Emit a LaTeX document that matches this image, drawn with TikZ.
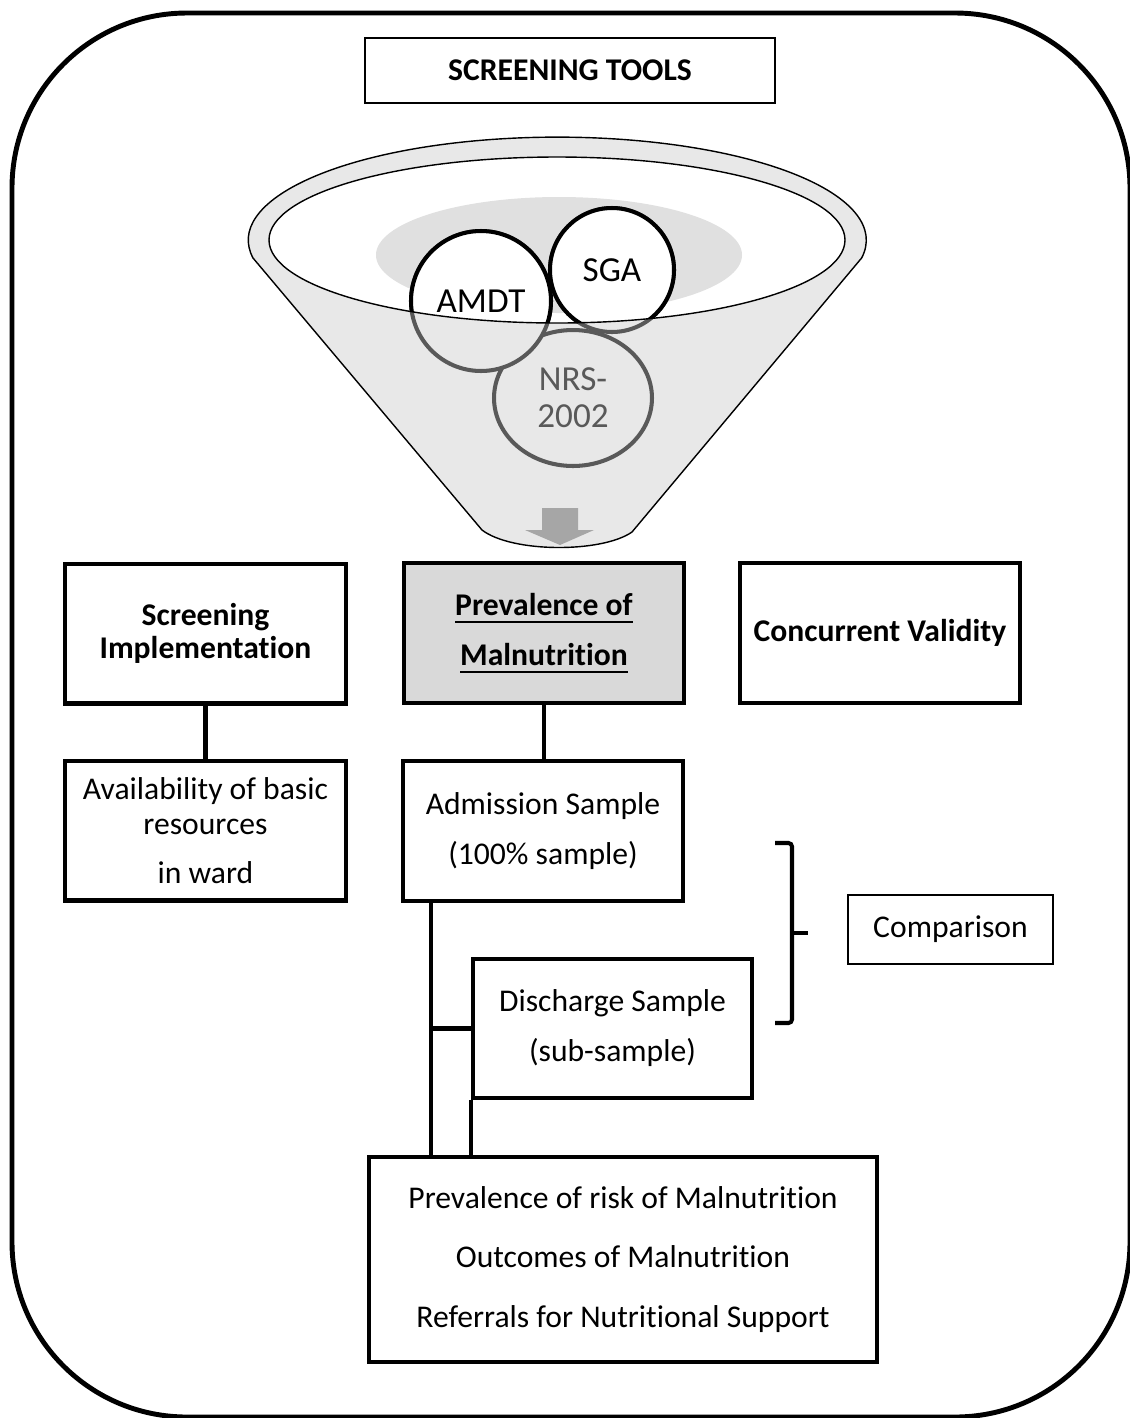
\documentclass[tikz,border=0pt]{standalone}
\usepackage{fontspec}
\setmainfont{Carlito}[Ligatures=NoCommon]
\usepackage{xcolor}
\usepackage{tikz}
\usetikzlibrary{shapes.geometric}
\definecolor{funnelgray}{HTML}{E8E8E8}
\definecolor{shadegray}{HTML}{E0E0E0}
\definecolor{ringgray}{HTML}{595959}
\definecolor{boxgray}{HTML}{D9D9D9}
\definecolor{arrowgray}{HTML}{A6A6A6}

\newcommand\undl[1]{\setbox0=\hbox{#1}\rlap{\rule[-4.5pt]{\wd0}{1.3pt}}\box0}

\begin{document}
\begin{tikzpicture}[x=0.02cm, y=-0.02cm,
          box/.style={rectangle, draw=black, line width=2.3pt, align=center, inner sep=0pt,
                      font=\fontsize{18}{28.5}\selectfont,
                      minimum width=5.62cm, minimum height=2.8cm},
          head/.style={box, font=\bfseries\fontsize{18}{19}\selectfont},
          thinbox/.style={box, line width=1.6pt},
          tool/.style={circle, draw=ringgray, line width=2.3pt, fill=funnelgray, inner sep=0pt},
          toollbl/.style={align=center, font=\fontsize{20}{21}\selectfont},
          link/.style={line width=2.3pt}
        ]
        \useasboundingbox (0,0) rectangle (1130,1418);
        \draw[line width=2.8pt, rounded corners=3.5cm] (12,13) rectangle (1130,1417);

        \node[thinbox, font=\bfseries\fontsize{18}{20}\selectfont,
              minimum width=8.2cm, minimum height=1.3cm] (tools) at (570,70.5) {SCREENING TOOLS};

        % funnel
        \filldraw[fill=funnelgray, line width=0.8pt] (253,258)
          arc[start angle=170, end angle=370, x radius=309, y radius=103]
          -- (632,532) .. controls (602,553) and (512,553) .. (482,530) -- cycle;
        \fill[white] (557,240) ellipse[x radius=288, y radius=83];
        \fill[shadegray] (559,255) ellipse[x radius=183, y radius=58];

        \node[tool, ellipse, minimum width=3.16cm, minimum height=2.72cm] (nrs) at (573,398) {};
        \node[tool, minimum size=2.8cm] (amdt) at (481,301) {};
        \node[tool, minimum size=2.48cm] (sga) at (612,270) {};
        \begin{scope}
          \clip (557,240) ellipse[x radius=288, y radius=83];
          \filldraw[fill=white, line width=2.3pt] (amdt.center) circle[radius=70];
          \filldraw[fill=white, line width=2.3pt] (sga.center) circle[radius=62];
        \end{scope}
        \draw[line width=0.8pt] (557,240) ellipse[x radius=288, y radius=83];

        \node[toollbl] (amdtlbl) at (amdt) {AMDT};
        \node[toollbl] (sgalbl) at (sga) {SGA};
        \node[toollbl, text=ringgray] (nrslbl) at (nrs) {NRS-\\2002};
        \fill[arrowgray] (542,508) -- (578,508) -- (578,530) -- (594,530) -- (560,545)
          -- (525,530) -- (542,530) -- cycle;

        \node[head] (impl) at (205.5,633.5) {Screening\\Implementation};
        \node[head, fill=boxgray, font=\bfseries\fontsize{18}{28.5}\selectfont] (prev) at (544,633)
          {\undl{Prevalence of}\\\undl{Malnutrition}};
        \node[head] (conc) at (880,633) {Concurrent Validity};

        \node[box, font=\fontsize{18}{20}\selectfont] (avail) at (205.5,830.5)
          {Availability of basic\\resources\\[7.4pt]in ward};
        \node[box] (adm) at (543,831) {Admission Sample\\(100\% sample)};
        \node[box, minimum width=5.58cm, minimum height=2.78cm] (dis) at (612.5,1028.5)
          {Discharge Sample\\(sub-sample)};
        \node[thinbox, minimum width=4.1cm, minimum height=1.38cm] (comp) at (950.5,929.5) {Comparison};
        \node[box, font=\fontsize{18}{34}\selectfont, minimum width=10.16cm, minimum height=4.1cm]
          (out) at (623,1259.5)
          {Prevalence of risk of Malnutrition\\Outcomes of Malnutrition\\Referrals for Nutritional Support};

        \draw[link] (impl.south) -- (impl.south |- avail.north);
        \draw[link] (prev.south) -- (prev.south |- adm.north);
        \coordinate (split) at (431,1028.5);
        \draw[link] (adm.south -| split) -- (out.north -| split);
        \draw[link] (split) -- (dis.west);
        \draw[link] (dis.south west) -- (dis.south west |- out.north);

        \coordinate (brtop) at (792,843);
        \coordinate (brbot) at (792,1023);
        \coordinate (brmid) at (792,933);
        \draw[link, rounded corners=2pt] ([xshift=-0.34cm]brtop) -- (brtop) -- (brbot) -- ([xshift=-0.34cm]brbot);
        \draw[link] (brmid) -- ++(16,0);
      \end{tikzpicture}
\end{document}
